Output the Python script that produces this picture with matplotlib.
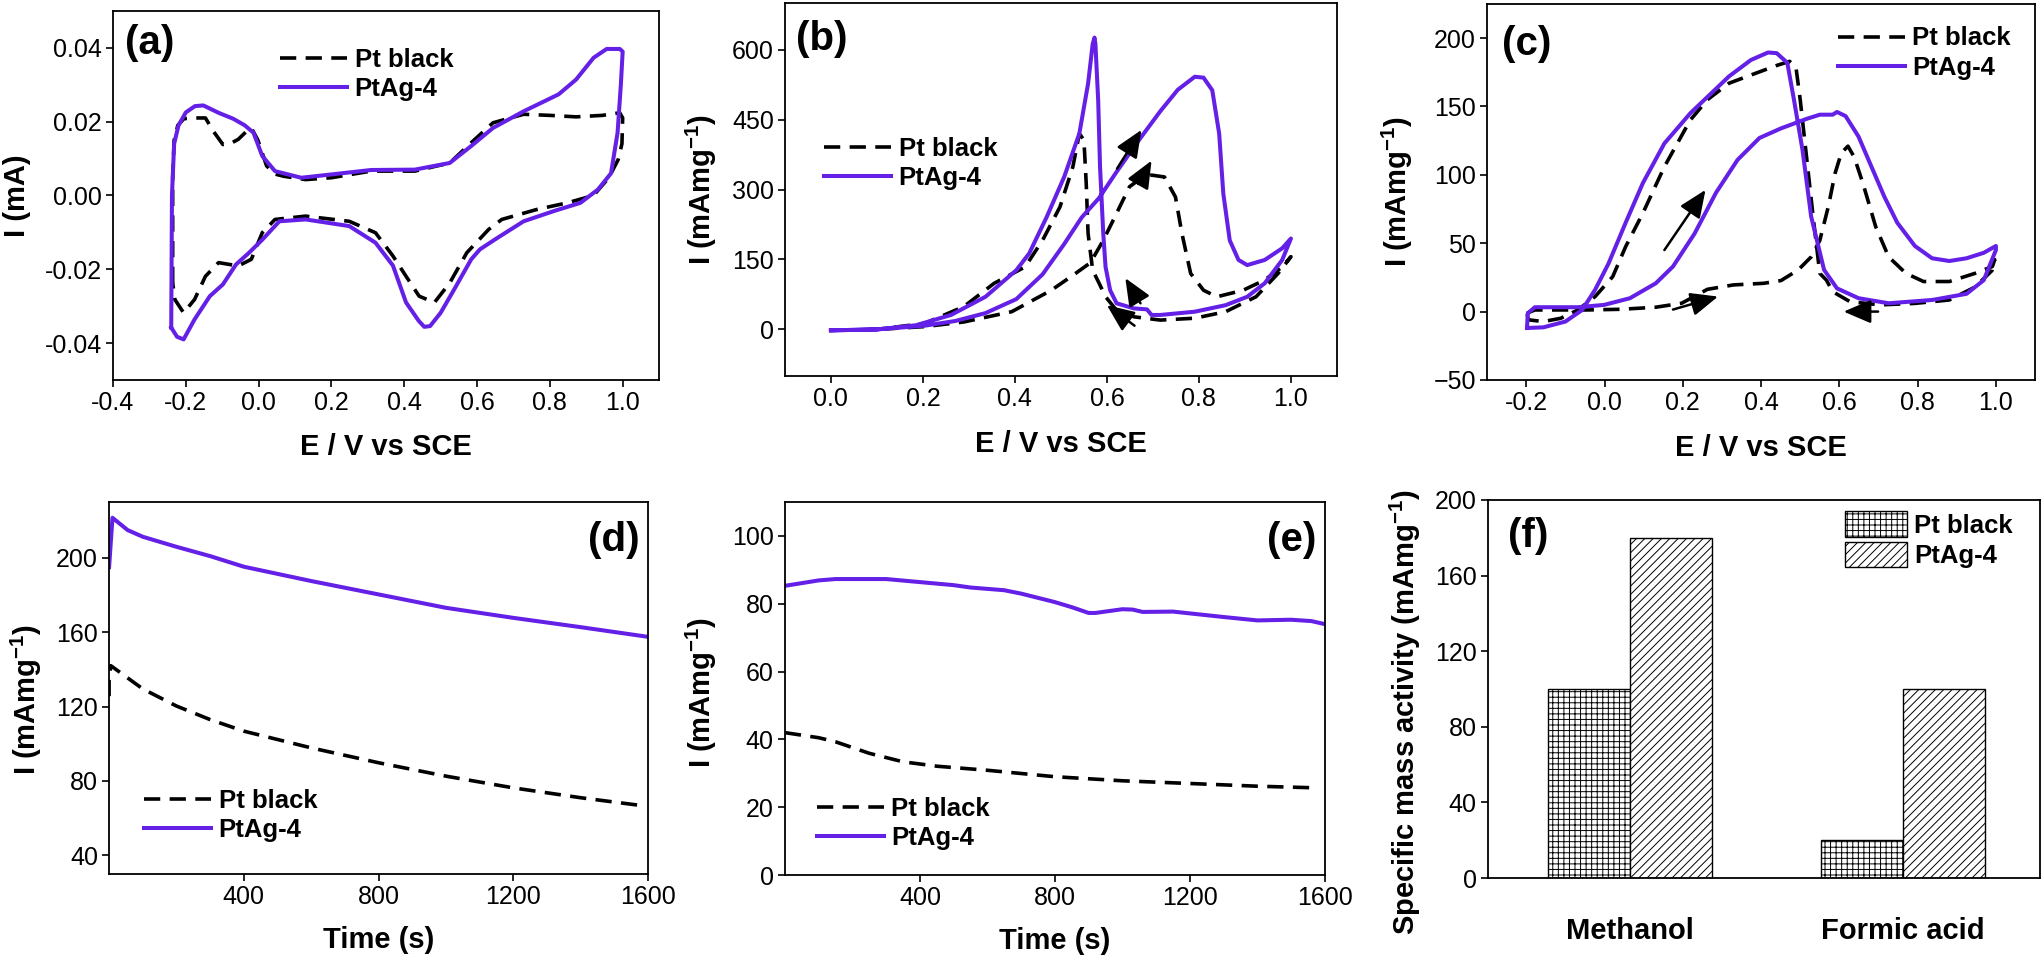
import matplotlib
matplotlib.use("Agg")
import matplotlib.pyplot as plt
import numpy as np

plt.rcParams['font.family'] = ['Liberation Sans', 'DejaVu Sans']
plt.rcParams['mathtext.default'] = 'regular'
plt.rcParams['hatch.linewidth'] = 0.7
plt.rcParams['axes.linewidth'] = 1.3

PURPLE = '#6420e6'

# ---------------- (a) CV in H2SO4 ----------------
a_pt_E = [-0.236, -0.236, -0.232, -0.222, -0.205, -0.182, -0.146, -0.125, -0.098, -0.075, -0.056, -0.035,
          -0.02, -0.002, 0.022, 0.045, 0.069, 0.129, 0.2, 0.309, 0.429, 0.525, 0.584, 0.644, 0.728,
          0.8, 0.872, 0.944, 0.992, 1.0, 0.998, 0.988, 0.962, 0.92, 0.848, 0.764, 0.668, 0.632, 0.572,
          0.525, 0.483, 0.441, 0.405, 0.369, 0.321, 0.249, 0.129, 0.045, 0.01, -0.02, -0.056, -0.11,
          -0.146, -0.176, -0.206, -0.23, -0.236]
a_pt_I = [-0.0237, 0.005, 0.015, 0.019, 0.0208, 0.021, 0.021, 0.0175, 0.0138, 0.0142, 0.0152, 0.0172,
          0.0183, 0.015, 0.008, 0.0058, 0.0052, 0.0043, 0.0048, 0.0066, 0.0066, 0.0088, 0.0143, 0.0197, 0.022,
          0.0217, 0.0213, 0.0217, 0.0224, 0.021, 0.014, 0.0098, 0.0048, 0.0, -0.002, -0.0038, -0.0065, -0.0092, -0.0155,
          -0.0237, -0.029, -0.0273, -0.0219, -0.0164, -0.0101, -0.007, -0.0056, -0.0065, -0.0101, -0.0173, -0.0191, -0.0182,
          -0.0219, -0.0282, -0.0318, -0.0282, -0.0237]

a_ag_E = [-0.24, -0.238, -0.232, -0.22, -0.2, -0.175, -0.152, -0.135, -0.11, -0.07, -0.038, -0.014, 0.01,
          0.045, 0.117, 0.2, 0.309, 0.429, 0.525, 0.584, 0.644, 0.728, 0.824, 0.872, 0.92, 0.956, 0.992,
          1.0, 0.995, 0.986, 0.968, 0.932, 0.884, 0.812, 0.728, 0.656, 0.608, 0.584, 0.537, 0.5, 0.471,
          0.455, 0.44, 0.405, 0.369, 0.321, 0.249, 0.129, 0.057, 0.01, -0.026, -0.062, -0.098, -0.134,
          -0.176, -0.206, -0.224, -0.24]
a_ag_I = [-0.0358, 0.0, 0.014, 0.019, 0.0225, 0.0242, 0.0244, 0.0236, 0.0224, 0.0208, 0.019, 0.017, 0.0107,
          0.0066, 0.0048, 0.0057, 0.0069, 0.007, 0.0088, 0.0134, 0.0183, 0.0228, 0.0274, 0.0314, 0.0373, 0.0397, 0.0397,
          0.039, 0.03, 0.017, 0.006, 0.0016, -0.002, -0.0042, -0.007, -0.0115, -0.0146, -0.0173, -0.0255, -0.0318, -0.0354,
          -0.0356, -0.034, -0.029, -0.019, -0.0128, -0.0083, -0.0065, -0.007, -0.012, -0.0155, -0.0187, -0.0241, -0.0273,
          -0.0336, -0.039, -0.0383, -0.0358]

# ---------------- (b) methanol oxidation ----------------
b_pt_E = [0.0, 0.1, 0.204, 0.289, 0.393, 0.479, 0.526, 0.564, 0.592, 0.621, 0.649, 0.678, 0.697, 0.725,
          0.749, 0.763, 0.782, 0.81, 0.839, 0.896, 0.943, 0.981, 1.0,
          0.972, 0.924, 0.858, 0.791, 0.716, 0.659, 0.621, 0.597, 0.583, 0.569, 0.559, 0.555, 0.55, 0.54,
          0.526, 0.498, 0.46, 0.422, 0.355, 0.289, 0.204, 0.1, 0.0]
b_pt_I = [-2, 0, 6, 16, 38, 84, 116, 143, 191, 249, 306, 327, 331, 327,
          284, 206, 120, 84, 70, 84, 106, 134, 156,
          120, 70, 38, 24, 20, 27, 41, 70, 99, 127, 206, 313, 406, 420,
          349, 263, 191, 134, 99, 49, 13, 0, -2]

b_ag_E = [0.0, 0.1, 0.204, 0.27, 0.336, 0.403, 0.46, 0.507, 0.545, 0.583, 0.621, 0.668, 0.716, 0.754, 0.791,
          0.81, 0.829, 0.844, 0.853, 0.867, 0.886, 0.905, 0.943, 0.981, 1.0,
          0.981, 0.943, 0.905, 0.858, 0.791, 0.716, 0.697, 0.687, 0.659, 0.621, 0.607, 0.597, 0.592, 0.585,
          0.581, 0.575, 0.573, 0.569, 0.559, 0.54, 0.507, 0.469, 0.431, 0.403, 0.336, 0.261, 0.185, 0.1, 0.0]
b_ag_I = [-2, 0, 8, 18, 35, 65, 118, 183, 240, 282, 338, 404, 468, 514, 542,
          540, 513, 420, 291, 191, 149, 138, 149, 174, 195,
          149, 99, 70, 52, 38, 31, 31, 43, 45, 56, 84, 134, 206, 349,
          491, 612, 626, 612, 527, 420, 327, 241, 163, 127, 70, 31, 9, 0, -2]

# ---------------- (c) formic acid oxidation ----------------
c_pt_E = [-0.198, -0.178, -0.134, -0.046, 0.043, 0.131, 0.197, 0.263, 0.329, 0.407, 0.451, 0.495, 0.528,
          0.55, 0.572, 0.589, 0.605, 0.622, 0.638, 0.66, 0.693, 0.726, 0.77, 0.815, 0.881, 0.947, 0.991, 0.997,
          0.99, 0.947, 0.881, 0.793, 0.704, 0.627, 0.583, 0.567, 0.55, 0.533, 0.517, 0.5, 0.489, 0.473,
          0.44, 0.374, 0.318, 0.263, 0.219, 0.153, 0.098, 0.054, 0.021, -0.024, -0.068, -0.112, -0.156,
          -0.195, -0.198]
c_pt_I = [-1.2, 1.2, 1.2, 1.2, 1.7, 3.2, 6.1, 16.3, 19.5, 20.7, 22.7, 30.5, 40,
          52, 77, 101, 116, 121, 113, 94, 62, 40, 28, 22, 22, 28, 33, 38,
          30, 18, 8.5, 6, 4.9, 7.3, 14.6, 23, 28, 69.5, 111, 155, 179, 183,
          180, 173, 167, 155, 140, 106, 72, 47.5, 25.6, 11, 1.2, -4.9, -7.3,
          -6, -1.2]

c_ag_E = [-0.198, -0.196, -0.178, -0.068, -0.001, 0.065, 0.131, 0.175, 0.23, 0.285, 0.34, 0.396, 0.451,
          0.517, 0.55, 0.583, 0.594, 0.616, 0.649, 0.682, 0.715, 0.748, 0.793, 0.837, 0.881, 0.925, 0.969, 1.0,
          1.0, 0.969, 0.925, 0.837, 0.726, 0.649, 0.594, 0.561, 0.528, 0.506, 0.484, 0.467, 0.44, 0.418,
          0.374, 0.318, 0.263, 0.219, 0.153, 0.098, 0.054, 0.01, -0.024, -0.057, -0.1, -0.156, -0.198]
c_ag_I = [-12, -1.2, 3.2, 3.2, 4.9, 9.8, 20.7, 33, 57, 87, 111, 127, 134,
          141, 144, 144, 146, 143, 128, 106, 84, 65, 48, 39, 37, 39, 43, 48,
          45, 23, 13, 8.5, 6.1, 9.8, 17, 30.5, 69.5, 118, 155, 182, 189, 189.5,
          184, 172, 157, 145, 123, 94, 65, 35, 16, 1.2, -7.3, -11.5, -12]

# ---------------- (d) chronoamperometry, methanol ----------------
d_t_ag = [0, 10, 55, 100, 200, 300, 400, 600, 800, 1000, 1200, 1400, 1600]
d_I_ag = [195, 221.5, 214.9, 211.3, 205.9, 200.9, 195.2, 187.5, 180.3, 173.1, 167.7, 162.7, 157.5]
d_t_pt = [0, 0, 5, 100, 200, 300, 400, 600, 800, 1000, 1200, 1400, 1580]
d_I_pt = [125.6, 135, 142, 129.5, 120.3, 113, 106.8, 97.8, 89.8, 82.6, 76.3, 71, 66.8]

# ---------------- (e) chronoamperometry, formic acid ----------------
e_t_ag = [0, 50, 100, 150, 300, 400, 500, 550, 650, 700, 800, 850, 900, 920, 1000, 1030, 1060,
          1150, 1300, 1400, 1500, 1560, 1600]
e_I_ag = [85.3, 86.1, 86.9, 87.3, 87.3, 86.4, 85.5, 84.8, 84.0, 83.0, 80.5, 79.0, 77.3, 77.3, 78.4,
          78.3, 77.6, 77.7, 76.1, 75.1, 75.3, 74.9, 74.0]
e_t_pt = [0, 100, 150, 250, 350, 450, 600, 800, 1000, 1200, 1400, 1580]
e_I_pt = [42, 40.5, 39.3, 35.9, 33.4, 32.1, 30.9, 29.0, 27.8, 27.0, 26.2, 25.7]

# ---------------- (f) specific mass activity ----------------
f_categories = ['Methanol', 'Formic acid']
f_pt = [100, 20]
f_ag = [180, 100]

# scan-direction arrows: (tail, head) in data units
b_arrows = [((0.622, 345), (0.675, 428)), ((0.668, 312), (0.697, 362)),
            ((0.673, 56), (0.64, 110)), ((0.66, 8), (0.6, 52))]
c_arrows = [((0.153, 45), (0.258, 89)), ((0.175, 1.5), (0.29, 11)), ((0.699, 0), (0.611, 0))]

fig = plt.figure(figsize=(20.43, 9.6), dpi=100)

ax_a = fig.add_axes([0.0553, 0.6042, 0.2673, 0.3844])
ax_b = fig.add_axes([0.3842, 0.6083, 0.2702, 0.3885])
ax_c = fig.add_axes([0.7279, 0.6042, 0.2682, 0.3917])
ax_d = fig.add_axes([0.0534, 0.0896, 0.2638, 0.3875])
ax_e = fig.add_axes([0.3842, 0.0885, 0.2643, 0.3885])
ax_f = fig.add_axes([0.7283, 0.0854, 0.2702, 0.3938])

DASH = (0, (4.5, 2.6))
LW_D = 2.6
LW_S = 2.9
TICK_FS = 18
LAB_FS = 21
LEG_FS = 18.5
PANEL_FS = 29
YLAB = 'I (mAmg$^{-1}$)'


def style(ax):
    ax.tick_params(direction='out', length=5, width=1.2, labelsize=TICK_FS, pad=3,
                   top=False, right=False)


def legend(ax, x, y):
    ax.legend(loc='upper left', bbox_to_anchor=(x, y), frameon=False, borderpad=0,
              borderaxespad=0, handlelength=2.6, handletextpad=0.3, labelspacing=0.2,
              prop={'weight': 'bold', 'size': LEG_FS})


def arrows(ax, pairs):
    for tail, head in pairs:
        ax.annotate('', xy=head, xytext=tail,
                    arrowprops=dict(arrowstyle='-|>,head_length=0.7,head_width=0.3', color='k',
                                    lw=1.8, mutation_scale=24, shrinkA=0, shrinkB=0))


# (a)
ax_a.plot(a_pt_E, a_pt_I, color='k', lw=LW_D, ls=DASH, label='Pt black')
ax_a.plot(a_ag_E, a_ag_I, color=PURPLE, lw=LW_S, label='PtAg-4')
ax_a.set_xlim(-0.4, 1.1)
ax_a.set_ylim(-0.05, 0.05)
ax_a.set_xticks(np.arange(-0.4, 1.01, 0.2))
ax_a.set_xticklabels(['-0.4', '-0.2', '0.0', '0.2', '0.4', '0.6', '0.8', '1.0'])
ax_a.set_yticks([-0.04, -0.02, 0.0, 0.02, 0.04])
ax_a.set_yticklabels(['-0.04', '-0.02', '0.00', '0.02', '0.04'])
ax_a.set_ylabel('I (mA)', fontsize=LAB_FS, fontweight='bold')
ax_a.set_xlabel('E / V vs SCE', fontsize=LAB_FS, fontweight='bold')
ax_a.yaxis.set_label_coords(-0.15, 0.5)
ax_a.xaxis.set_label_coords(0.5, -0.145)
legend(ax_a, 0.306, 0.9)
ax_a.text(0.022, 0.965, '(a)', transform=ax_a.transAxes, fontsize=PANEL_FS, fontweight='bold', va='top')

# (b)
ax_b.plot(b_pt_E, b_pt_I, color='k', lw=LW_D, ls=DASH, label='Pt black')
ax_b.plot(b_ag_E, b_ag_I, color=PURPLE, lw=LW_S, label='PtAg-4')
arrows(ax_b, b_arrows)
ax_b.set_xlim(-0.1, 1.1)
ax_b.set_ylim(-100, 700)
ax_b.set_xticks(np.arange(0, 1.01, 0.2))
ax_b.set_xticklabels(['0.0', '0.2', '0.4', '0.6', '0.8', '1.0'])
ax_b.set_yticks([0, 150, 300, 450, 600])
ax_b.set_ylabel(YLAB, fontsize=LAB_FS, fontweight='bold')
ax_b.set_xlabel('E / V vs SCE', fontsize=LAB_FS, fontweight='bold')
ax_b.yaxis.set_label_coords(-0.12, 0.5)
ax_b.xaxis.set_label_coords(0.5, -0.145)
legend(ax_b, 0.071, 0.64)
ax_b.text(0.02, 0.955, '(b)', transform=ax_b.transAxes, fontsize=PANEL_FS, fontweight='bold', va='top')

# (c)
ax_c.plot(c_pt_E, c_pt_I, color='k', lw=LW_D, ls=DASH, label='Pt black')
ax_c.plot(c_ag_E, c_ag_I, color=PURPLE, lw=LW_S, label='PtAg-4')
arrows(ax_c, c_arrows)
ax_c.set_xlim(-0.3, 1.1)
ax_c.set_ylim(-50, 225)
ax_c.set_xticks(np.arange(-0.2, 1.01, 0.2))
ax_c.set_xticklabels(['-0.2', '0.0', '0.2', '0.4', '0.6', '0.8', '1.0'])
ax_c.set_yticks([-50, 0, 50, 100, 150, 200])
ax_c.set_ylabel(YLAB, fontsize=LAB_FS, fontweight='bold')
ax_c.set_xlabel('E / V vs SCE', fontsize=LAB_FS, fontweight='bold')
ax_c.yaxis.set_label_coords(-0.131, 0.5)
ax_c.xaxis.set_label_coords(0.5, -0.145)
legend(ax_c, 0.64, 0.94)
ax_c.text(0.027, 0.945, '(c)', transform=ax_c.transAxes, fontsize=PANEL_FS, fontweight='bold', va='top')

# (d)
ax_d.plot(d_t_pt, d_I_pt, color='k', lw=LW_D, ls=DASH, label='Pt black')
ax_d.plot(d_t_ag, d_I_ag, color=PURPLE, lw=LW_S, label='PtAg-4')
ax_d.set_xlim(0, 1600)
ax_d.set_ylim(30, 230)
ax_d.set_xticks([400, 800, 1200, 1600])
ax_d.set_yticks([40, 80, 120, 160, 200])
ax_d.set_ylabel(YLAB, fontsize=LAB_FS, fontweight='bold')
ax_d.set_xlabel('Time (s)', fontsize=LAB_FS, fontweight='bold')
ax_d.yaxis.set_label_coords(-0.121, 0.47)
ax_d.xaxis.set_label_coords(0.5, -0.14)
legend(ax_d, 0.065, 0.228)
ax_d.text(0.985, 0.95, '(d)', transform=ax_d.transAxes, fontsize=PANEL_FS, fontweight='bold',
          va='top', ha='right')

# (e)
ax_e.plot(e_t_pt, e_I_pt, color='k', lw=LW_D, ls=DASH, label='Pt black')
ax_e.plot(e_t_ag, e_I_ag, color=PURPLE, lw=LW_S, label='PtAg-4')
ax_e.set_xlim(0, 1600)
ax_e.set_ylim(0, 110)
ax_e.set_xticks([400, 800, 1200, 1600])
ax_e.set_yticks([0, 20, 40, 60, 80, 100])
ax_e.set_ylabel(YLAB, fontsize=LAB_FS, fontweight='bold')
ax_e.set_xlabel('Time (s)', fontsize=LAB_FS, fontweight='bold')
ax_e.yaxis.set_label_coords(-0.122, 0.49)
ax_e.xaxis.set_label_coords(0.5, -0.14)
legend(ax_e, 0.059, 0.21)
ax_e.text(0.985, 0.95, '(e)', transform=ax_e.transAxes, fontsize=PANEL_FS, fontweight='bold',
          va='top', ha='right')

# (f)
x = np.arange(len(f_categories))
w = 0.3
ax_f.bar(x - w / 2, f_pt, w, color='white', edgecolor='k', hatch='+++', lw=1.0, label='Pt black')
ax_f.bar(x + w / 2, f_ag, w, color='white', edgecolor='k', hatch='////', lw=1.0, label='PtAg-4')
ax_f.set_xlim(-0.52, 1.5)
ax_f.set_ylim(0, 200)
ax_f.set_xticks(x)
ax_f.set_xticklabels(f_categories, fontsize=LAB_FS, fontweight='bold')
ax_f.set_yticks([0, 40, 80, 120, 160, 200])
ax_f.set_ylabel('Specific mass activity (mAmg$^{-1}$)', fontsize=LAB_FS, fontweight='bold')
ax_f.yaxis.set_label_coords(-0.118, 0.44)
ax_f.legend(loc='upper left', bbox_to_anchor=(0.647, 0.97), frameon=False, borderpad=0,
            borderaxespad=0, handlelength=2.4, handleheight=1.15, handletextpad=0.3,
            labelspacing=0.15, prop={'weight': 'bold', 'size': LEG_FS})
ax_f.text(0.036, 0.955, '(f)', transform=ax_f.transAxes, fontsize=PANEL_FS, fontweight='bold', va='top')

for ax in (ax_a, ax_b, ax_c, ax_d, ax_e, ax_f):
    style(ax)
ax_f.tick_params(axis='x', length=0, pad=28, labelsize=LAB_FS)

fig.savefig('out.png', dpi=100)
